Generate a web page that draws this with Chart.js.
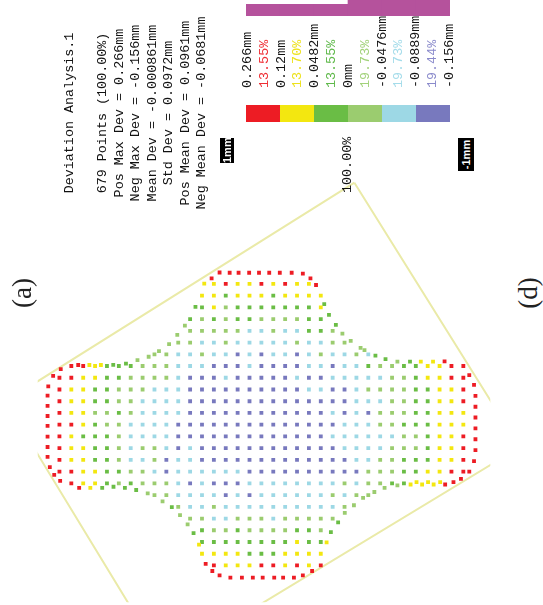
<!DOCTYPE html>
<html>
<head>
<meta charset="utf-8">
<script src="https://cdn.jsdelivr.net/npm/chart.js@4.4.1/dist/chart.umd.min.js"></script>
<style>
  html, body { margin: 0; padding: 0; background: #fff; }
  body { width: 543px; height: 605px; position: relative; overflow: hidden; }
  .rot { position: absolute; transform-origin: 0 0; transform: rotate(-90deg); white-space: nowrap; }
  .mono { font-family: "Liberation Mono", "DejaVu Sans Mono", monospace; font-size: 13.4px; color: #111; }
  .serif { font-family: "Liberation Serif", serif; font-size: 27px; color: #222; }
  .box { background: #000; color: #fff; font-family: "Liberation Sans", sans-serif; font-size: 11px; font-weight: bold; text-align: center; }
  .swatch { position: absolute; top: 105px; height: 17px; width: 34px; }
  #histo { position: absolute; left: 246px; top: 0; }
  #scatter { position: absolute; left: 35px; top: 170px; }
</style>
</head>
<body>
<canvas id="histo" width="204" height="16"></canvas>
<canvas id="scatter" width="458" height="435"></canvas>
<script>
// colour bands, highest deviation first
const bandCodes = ['R', 'Y', 'G', 'L', 'B', 'P'];
const bandColors = ['#ED1C24', '#F3E710', '#6ABD45', '#9BCC6F', '#9DD8E5', '#7879BE'];
const bandTextColors = ['#EF2E34', '#EDE21B', '#5FB94A', '#A2D27A', '#A4DCEA', '#8A8ACB'];
const bandPercents = [13.55, 13.70, 13.55, 19.73, 19.73, 19.44];
const bandLimits = ['0.266mm', '0.12mm', '0.0482mm', '0mm', '-0.0476mm', '-0.0889mm', '-0.156mm'];

const title = 'Deviation Analysis.1';
const statLines = [
    '679 Points (100.00%)',
    'Pos Max Dev = 0.266mm',
    'Neg Max Dev = -0.156mm',
    'Mean Dev = -0.000861mm',
    'Std Dev = 0.0972mm',
    'Pos Mean Dev = 0.0961mm',
    'Neg Mean Dev = -0.0681mm'
];

// measured points on the grid: [first column, band code per column], one entry per row
const gridRows = [
    [0, ''],
    [14, 'YRYYRYRYY'],
    [13, 'YYGYYYGYYYY'],
    [13, 'GYLGGGGGGGY'],
    [12, 'GLGLGGLLLLGG'],
    [12, 'LLLLLBBLBBGGL'],
    [11, 'LLBBLBBBBBLBBLL'],
    [9, 'LLBBLBBPBPBBPBLBBLB'],
    [2, 'RRYGGGLLLB' + 'BBPPPBPPPPBB' + 'PBBGLLGGYYRR'],
    [1, 'RRYYGGLLLLB' + 'PPPBPPPPPBPP' + 'BBBBBLLGYYRR'],
    [1, 'RYYGGLLLBBB' + 'PPPPPPPPPPBB' + 'PPBLLLLGGYYR'],
    [1, 'RYYGGLLBBBB' + 'PPPPPPPPPPPP' + 'PPBBBLLGGYYR'],
    [1, 'RYYLLGLBBBB' + 'PPPPPPPPPPPP' + 'BPBPLLLGGYYY'],
    [1, 'RRYGLLBBBBP' + 'PPPPPPPPPPPP' + 'PBBBLLGGGYYY'],
    [1, 'RYGGGLBBBBP' + 'PPPPPPPPPPPP' + 'BBBBBBLLGYYR'],
    [1, 'RYYGGLBLLBP' + 'BPPPPPPPPPPP' + 'PBBBBLLLGYYR'],
    [1, 'RYYGGLBBLPB' + 'BPPPPPPPPPPP' + 'PPBBLLGGGYYR'],
    [1, 'RRYYGGLLBPB' + 'BBBBBPPPPPPP' + 'PPPLLLGGYYRR'],
    [2, 'RYYGLGLLLB' + 'PBPPPBBBBBBB' + 'BLBLLGG'],
    [9, 'LLB' + 'BBBPBPBBBBBB' + 'LBLL'],
    [11, 'L' + 'BBLBBBBBBBBB' + 'BL'],
    [12, 'LLBBLLLBLLLL' + 'L'],
    [13, 'GLLGLLLLGGL'],
    [13, 'GGGGGGGGYGG'],
    [13, 'YYYYGGGYYYY'],
    [14, 'RYYYRRYRYR'],
    [0, '']
];

// outline points that sit off the grid: [column, row, band]
const edgePoints = [
    [13.81, 0.53, 'R'], [14.48, 0.03, 'R'], [15.33, 0.05, 'R'], [16.08, 0.05, 'R'], [16.97, 0.05, 'R'],
    [17.80, 0.05, 'R'], [18.66, 0.05, 'R'], [19.55, 0.05, 'R'], [20.55, 0.05, 'R'], [21.49, 0.13, 'R'],
    [22.13, 0.53, 'R'], [22.60, 1.09, 'R'], [13.19, 0.98, 'Y'],
    [12.45, 2.95, 'G'], [23.29, 2.72, 'G'], [23.69, 3.64, 'G'], [24.27, 4.49, 'G'], [24.82, 5.24, 'L'],
    [25.52, 5.86, 'L'], [26.35, 6.45, 'L'], [26.68, 6.65, 'L'], [27.60, 7.12, 'G'], [28.45, 7.41, 'G'],
    [11.56, 4.55, 'L'], [10.92, 5.35, 'L'], [10.23, 6.14, 'L'], [9.38, 6.73, 'L'], [8.51, 7.21, 'L'], [7.57, 7.49, 'L'],
    [6.60, 7.79, 'G'], [5.53, 7.90, 'G'], [4.49, 7.91, 'Y'], [3.52, 7.91, 'Y'], [2.58, 7.91, 'R'],
    [1.11, 8.27, 'R'], [0.47, 8.84, 'R'],
    [0.06, 9.73, 'R'], [0, 10.52, 'R'], [0, 11.39, 'R'], [0, 12.26, 'R'], [0, 13.10, 'R'], [0, 14.02, 'R'],
    [0, 14.90, 'R'], [0, 15.74, 'R'], [0.19, 16.61, 'R'], [0.56, 17.28, 'R'], [1.06, 17.79, 'R'],
    [2.66, 18.38, 'R'], [3.60, 18.38, 'Y'], [4.60, 18.38, 'G'], [5.55, 18.29, 'G'], [6.51, 18.38, 'G'],
    [7.46, 18.57, 'G'], [8.43, 18.86, 'L'], [9.68, 19.53, 'L'], [10.46, 20.03, 'G'], [11.15, 20.71, 'L'],
    [11.79, 21.49, 'L'], [12.29, 22.25, 'G'], [12.75, 23.23, 'Y'], [13.31, 24.86, 'R'], [13.87, 25.47, 'R'],
    [14.48, 25.84, 'R'],
    [15.39, 26.04, 'R'], [16.36, 26.04, 'R'], [17.28, 26.04, 'R'], [18.11, 26.04, 'R'], [19.08, 26.04, 'R'],
    [19.83, 26.04, 'R'], [20.74, 26.04, 'R'], [21.49, 25.84, 'R'], [22.27, 25.47, 'R'],
    [23.49, 23.03, 'Y'], [23.85, 22.16, 'G'], [24.46, 21.32, 'G'], [25.02, 20.51, 'L'], [25.79, 19.87, 'L'],
    [26.56, 19.24, 'L'], [27.51, 18.74, 'L'], [28.37, 18.38, 'L'], [29.45, 18.18, 'L'],
    [30.56, 18.10, 'Y'], [31.06, 17.90, 'Y'], [31.53, 18.10, 'Y'], [32.03, 17.90, 'Y'], [32.50, 18.10, 'Y'],
    [33.05, 17.90, 'Y'], [33.47, 18.10, 'R'], [34.17, 17.90, 'R'], [34.80, 17.62, 'R'], [35.50, 17.00, 'R'],
    [35.90, 16.10, 'R'], [36.02, 15.17, 'R'], [36.02, 14.24, 'R'], [36.02, 13.32, 'R'], [36.02, 12.39, 'R'],
    [36.02, 11.47, 'R'], [36.02, 10.54, 'R'], [35.90, 9.61, 'R'], [35.50, 8.78, 'R'],
    [29.45, 7.63, 'L'], [30.51, 7.63, 'G'], [31.42, 7.63, 'Y'], [32.45, 7.63, 'Y'], [33.42, 7.60, 'R']
];

// pale bounding box corners in the same column/row units
const boxCorners = [[25.83, -7.63], [39.74, 14.92], [9.84, 33.27], [-3.54, 11.02], [25.83, -7.63]];

// ---- text (rotated 90deg, reads bottom to top) ----
function rotDiv(text, cx, bottom, width, height, cls, align, color) {
    const d = document.createElement('div');
    d.className = 'rot ' + cls;
    d.textContent = text;
    d.style.left = (cx - height / 2) + 'px';
    d.style.top = bottom + 'px';
    d.style.width = width + 'px';
    d.style.height = height + 'px';
    d.style.lineHeight = height + 'px';
    d.style.textAlign = align;
    if (color) d.style.color = color;
    document.body.appendChild(d);
}

rotDiv(title, 70, 228, 230, 16, 'mono', 'center');
statLines.forEach((t, i) => rotDiv(t, 103 + 16.5 * i, 228, 230, 16, 'mono', 'center'));

for (let i = 0; i < 13; i++) {
    const cx = 248 + 16.83 * i;
    if (i % 2 === 0) rotDiv(bandLimits[i / 2], cx, 88, 100, 16, 'mono', 'left');
    else {
        const b = (i - 1) / 2;
        rotDiv(bandPercents[b].toFixed(2) + '%', cx, 88, 100, 16, 'mono', 'left', bandTextColors[b]);
    }
}
rotDiv('100.00%', 348, 193, 70, 16, 'mono', 'left');
rotDiv('1mm', 227, 163, 25, 14, 'box', 'center');
rotDiv('-1mm', 466, 171, 33, 16, 'box', 'center');
rotDiv('(a)', 22, 313, 40, 28, 'serif', 'center');
rotDiv('(d)', 528, 313, 40, 28, 'serif', 'center');

bandColors.forEach((c, i) => {
    const s = document.createElement('div');
    s.className = 'swatch';
    s.style.left = (246 + 34 * i) + 'px';
    s.style.background = c;
    document.body.appendChild(s);
});

// ---- histogram strip ----
new Chart(document.getElementById('histo'), {
    type: 'bar',
    data: {
        labels: bandCodes,
        datasets: [{
            data: bandPercents,
            backgroundColor: '#B5529C',
            barPercentage: 1,
            categoryPercentage: 1,
            borderWidth: 0
        }]
    },
    options: {
        responsive: false,
        animation: false,
        events: [],
        layout: { padding: 0 },
        plugins: { legend: { display: false }, tooltip: { enabled: false } },
        scales: {
            x: { display: false },
            y: { display: false, min: 0, max: 18.7 }
        }
    }
});

// ---- deviation point map ----
const pts = {};
bandCodes.forEach(k => pts[k] = []);
gridRows.forEach(([start, codes], r) => {
    for (let i = 0; i < codes.length; i++) {
        const k = codes[i];
        if (pts[k]) pts[k].push({ x: start + i, y: r });
    }
});
edgePoints.forEach(([c, r, k]) => pts[k].push({ x: c, y: r }));

const datasets = bandCodes.map((k, i) => ({
    data: pts[k],
    backgroundColor: bandColors[i],
    pointStyle: 'rect',
    pointRadius: 2.7,
    pointHoverRadius: 2.7,
    borderWidth: 0,
    order: 0
}));
datasets.push({
    data: boxCorners.map(([x, y]) => ({ x, y })),
    showLine: true,
    borderColor: '#EAEAA8',
    borderWidth: 2,
    pointRadius: 0,
    fill: false,
    order: 1
});

new Chart(document.getElementById('scatter'), {
    type: 'scatter',
    data: { datasets },
    options: {
        responsive: false,
        animation: false,
        events: [],
        layout: { padding: 0 },
        plugins: { legend: { display: false }, tooltip: { enabled: false } },
        scales: {
            x: { type: 'linear', display: false, min: -0.83, max: 37.27 },
            y: { type: 'linear', display: false, min: -8.48, max: 28.14, reverse: true }
        }
    }
});
</script>
</body>
</html>
